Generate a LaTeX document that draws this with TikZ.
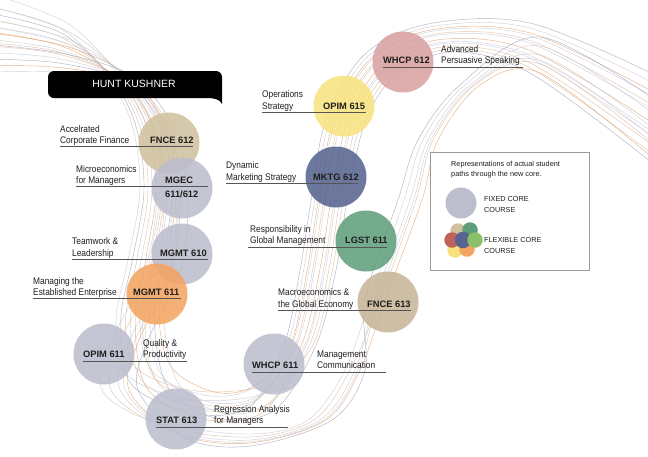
\documentclass[tikz,border=0pt]{standalone}
\usepackage{fontspec}
\setmainfont{Liberation Sans}
\newfontfamily\lblfont[FakeStretch=0.87]{Liberation Sans}
\definecolor{cGray}{HTML}{BCBDCD}
\definecolor{cTan}{HTML}{CFC09F}
\definecolor{cTanB}{HTML}{C6B496}
\definecolor{cOrange}{HTML}{F4A462}
\definecolor{cRose}{HTML}{D9A1A1}
\definecolor{cYellow}{HTML}{F8E27F}
\definecolor{cBlue}{HTML}{56648F}
\definecolor{cGreen}{HTML}{5F9E7B}
\definecolor{cRed}{HTML}{C0625A}
\definecolor{cLGreen}{HTML}{8CC068}
\definecolor{cl1}{HTML}{C6C6D0}
\definecolor{cl2}{HTML}{D8B99C}
\definecolor{cl3}{HTML}{E0A06C}
\definecolor{cl4}{HTML}{9DA1B8}
\definecolor{txt}{HTML}{1E1E1E}
\definecolor{ulc}{HTML}{555555}
\definecolor{legb}{HTML}{9A9A9A}
\begin{document}
\begin{tikzpicture}[x=1pt,y=-1pt,
  crs/.style={circle, inner sep=0pt, minimum size=61pt, fill opacity=0.87},
  dot/.style={circle, inner sep=0pt, minimum size=15.5pt},
  lbl/.style={anchor=base west, inner sep=0pt, font=\lblfont\fontsize{9.6}{11}\selectfont, text=txt},
  code/.style={anchor=base west, inner sep=0pt, font=\bfseries\fontsize{9.3}{11}\selectfont, text=txt},
  leg/.style={anchor=base west, inner sep=0pt, font=\fontsize{7.3}{9}\selectfont, text=txt},
  uline/.style={draw=ulc, line width=0.7pt},
  curve/.style={line width=0.45pt, opacity=0.8}]
\useasboundingbox (0,0) rectangle (648,456);

% student paths
\foreach \a/\b/\m/\cc in {-1/0.3/-0.4/cl1, -0.8/-1/0.6/cl4, -0.6/0.8/-1/cl2, -0.4/-0.5/0.2/cl1,
  -0.2/0.1/1/cl3, 0/-0.8/-0.7/cl1, 0.2/0.6/0.4/cl2, 0.4/-0.2/-0.2/cl1, 0.6/1/0.9/cl4,
  0.8/-0.6/-0.9/cl3, 1/0.4/0.5/cl1, 0.1/-0.3/0/cl2}{
  \draw[curve, draw=\cc] plot[smooth, tension=0.55] coordinates {
    (-5,{40+32*\a}) (60,{50+22*\a}) ({118+12*\a},{78+5*\a}) ({150+18*\a},125)
    ({160+20*\a},190) ({150+22*\a},260) ({140+24*\a},320) ({152+26*\a},{378+10*\m})
    ({205+14*\a},{405+14*\m}) ({262+12*\b},{398+14*\m}) ({300+16*\b},345) ({318+18*\b},270)
    ({330+18*\b},195) ({346+20*\b},120) ({380+16*\b},{65+10*\b}) ({440+12*\b},{38+14*\b})
    (530,{48+25*\b}) (655,{120+45*\b})};
}
\foreach \a/\b/\cc in {-1/-0.5/cl1, -0.5/0.5/cl2, 0/0/cl1, 0.5/1/cl3, 1/-1/cl4, 0.3/0.3/cl1}{
  \draw[curve, draw=\cc] plot[smooth, tension=0.55] coordinates {
    (-5,{20+25*\a}) (70,{40+15*\a}) ({130+8*\a},80) ({165+14*\a},140)
    ({172+16*\a},210) ({160+18*\a},280) ({130+18*\a},340) ({120+18*\a},390)
    ({170+15*\a},{430+8*\a}) (250,{440+6*\a}) ({320+12*\a},420) ({355+10*\a},370)
    ({375+10*\b},300) ({410+12*\b},200) ({428+10*\b},140) ({470+10*\b},85)
    (540,{55+18*\b}) (655,{130+30*\b})};
}

% banner
\fill[black, rounded corners=6pt] (206,98) -- (48,98) -- (48,71) -- (222,71) -- (222,85)
  [sharp corners] -- (222,104) .. controls (220,99) and (214,98) .. (206,98) -- cycle;
\node[text=white, font=\fontsize{10.5}{12}\selectfont, inner sep=0pt] (banner) at (134,83.5) {HUNT KUSHNER};

% courses
\node[crs, fill=cTan] (fnce612) at (169,143) {};
\node[crs, fill=cGray] (mgec) at (182,188) {};
\node[crs, fill=cGray] (mgmt610) at (182,254) {};
\node[crs, fill=cOrange] (mgmt611) at (157,294) {};
\node[crs, fill=cGray] (opim611) at (104,354) {};
\node[crs, fill=cGray] (stat613) at (176,419) {};
\node[crs, fill=cGray] (whcp611) at (274,364) {};
\node[crs, fill=cTanB] (fnce613) at (388,302) {};
\node[crs, fill=cGreen] (lgst611) at (366,241) {};
\node[crs, fill=cBlue] (mktg612) at (336,177) {};
\node[crs, fill=cYellow] (opim615) at (344,106) {};
\node[crs, fill=cRose] (whcp612) at (403,62) {};

% labels
\node[lbl] (l1a) at (60,132) {Accelrated};
\node[lbl] (l1b) at (60,143) {Corporate Finance};
\node[code] (c1) at (150,143) {FNCE 612};
\draw[uline] ([yshift=-3.5pt]l1b.base west) -- ++(133,0);

\node[lbl] (l2a) at (76,172) {Microeconomics};
\node[lbl] (l2b) at (76,183) {for Managers};
\node[code] (c2a) at (165,183) {MGEC};
\node[code] (c2b) at (165,197) {611/612};
\draw[uline] ([yshift=-3.5pt]l2b.base west) -- ++(132,0);

\node[lbl] (l3a) at (72,244) {Teamwork \&};
\node[lbl] (l3b) at (72,256) {Leadership};
\node[code] (c3) at (160,256) {MGMT 610};
\draw[uline] ([yshift=-3.5pt]l3b.base west) -- ++(136,0);

\node[lbl] (l4a) at (33,284) {Managing the};
\node[lbl] (l4b) at (33,295) {Established Enterprise};
\node[code] (c4) at (133,295) {MGMT 611};
\draw[uline] ([yshift=-3.5pt]l4b.base west) -- ++(148,0);

\node[code] (c5) at (83,357) {OPIM 611};
\node[lbl] (l5a) at (143,346) {Quality \&};
\node[lbl] (l5b) at (143,357) {Productivity};
\draw[uline] ([yshift=-4.5pt]c5.base west) -- ++(104,0);

\node[code] (c6) at (156,423) {STAT 613};
\node[lbl] (l6a) at (214,412) {Regression Analysis};
\node[lbl] (l6b) at (214,423) {for Managers};
\draw[uline] ([yshift=-4pt]c6.base west) -- ++(132,0);

\node[code] (c7) at (252,368) {WHCP 611};
\node[lbl] (l7a) at (317,357) {Management};
\node[lbl] (l7b) at (317,368) {Communication};
\draw[uline] ([yshift=-4pt]c7.base west) -- ++(134,0);

\node[lbl] (l8a) at (278,295) {Macroeconomics \&};
\node[lbl] (l8b) at (278,307) {the Global Economy};
\node[code] (c8) at (367,307) {FNCE 613};
\draw[uline] ([yshift=-3.5pt]l8b.base west) -- ++(133,0);

\node[lbl] (l9a) at (250,232) {Responsibility in};
\node[lbl] (l9b) at (250,243) {Global Management};
\node[code] (c9) at (345,243) {LGST 611};
\draw[uline] ([yshift=-4.5pt,xshift=-2pt]l9b.base west) -- ++(139,0);

\node[lbl] (l10a) at (226,168) {Dynamic};
\node[lbl] (l10b) at (226,180) {Marketing Strategy};
\node[code] (c10) at (313,180) {MKTG 612};
\draw[uline] ([yshift=-3.5pt]l10b.base west) -- ++(132,0);

\node[lbl] (l11a) at (262,97) {Operations};
\node[lbl] (l11b) at (262,109) {Strategy};
\node[code] (c11) at (323,109) {OPIM 615};
\draw[uline] ([yshift=-3.5pt]l11b.base west) -- ++(104,0);

\node[code] (c12) at (383,63) {WHCP 612};
\node[lbl] (l12a) at (441,52) {Advanced};
\node[lbl] (l12b) at (441,63) {Persuasive Speaking};
\draw[uline] ([yshift=-4.5pt]c12.base west) -- ++(140,0);

% legend
\node[draw=legb, fill=white, line width=0.9pt, inner sep=0pt, minimum width=159pt,
  minimum height=118pt, anchor=north west] (legend) at (430,152) {};
\node[leg] (lg1) at (451,166) {Representations of actual student};
\node[leg] (lg2) at (451,176) {paths through the new core.};
\node[circle, inner sep=0pt, minimum size=31pt, fill=cGray] (fixed) at (461,203) {};
\node[leg] (lg3) at (484,201) {FIXED CORE};
\node[leg] (lg4) at (484,212) {COURSE};
\node[dot, fill=cTan] (f1) at (458,231) {};
\node[dot, fill=cGreen] (f2) at (470,230) {};
\node[dot, fill=cYellow] (f3) at (455,250) {};
\node[dot, fill=cOrange] (f4) at (467,249) {};
\node[dot, fill=cRed] (f5) at (452,240) {};
\node[dot, fill=cBlue, minimum size=16.5pt] (f6) at (463,240) {};
\node[dot, fill=cLGreen] (f7) at (475,240) {};
\node[leg] (lg5) at (484,242) {FLEXIBLE CORE};
\node[leg] (lg6) at (484,253) {COURSE};
\end{tikzpicture}
\end{document}
